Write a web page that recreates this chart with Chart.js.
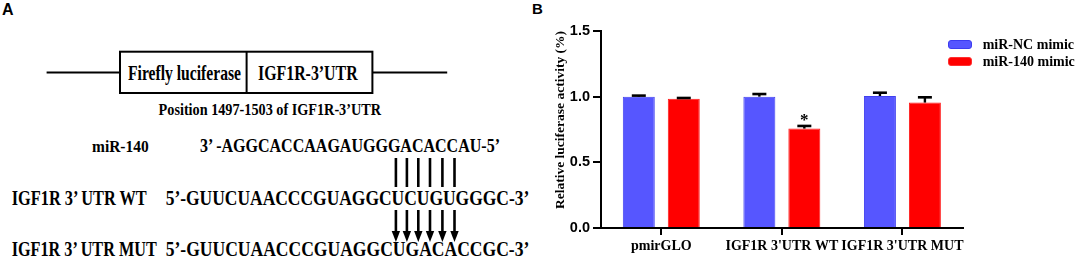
<!DOCTYPE html>
<html><head><meta charset="utf-8">
<script src="https://cdn.jsdelivr.net/npm/chart.js@4/dist/chart.umd.min.js"></script>
<style>
html,body{margin:0;padding:0;background:#fff;width:1084px;height:259px;overflow:hidden;}
#wrap{position:relative;width:1084px;height:259px;}
#diagram{position:absolute;left:0;top:0;}
#cv{position:absolute;left:540px;top:0;}
.leg{position:absolute;font:bold 14px 'Liberation Serif';color:#000;white-space:nowrap;line-height:16px;}
.sw{position:absolute;width:22px;height:7px;border-radius:3px;}
.panel{position:absolute;font:bold 15px 'Liberation Sans';color:#000;}
</style></head>
<body><div id="wrap">
<svg id="diagram" width="540" height="259" xmlns="http://www.w3.org/2000/svg" style="font-family:'Liberation Serif';font-weight:bold;">
  <text x="2" y="15" style="font-family:'Liberation Sans';font-size:16px;">A</text>
  <g stroke="#000" stroke-width="2" fill="none">
    <line x1="46.6" y1="72.4" x2="120" y2="72.4"/>
    <rect x="120" y="51.7" width="252.4" height="41.3"/>
    <line x1="246.6" y1="51.7" x2="246.6" y2="93"/>
    <line x1="372.4" y1="72.4" x2="447.2" y2="72.4"/>
  </g>
  <text x="128" y="80" style="font-size:21px" textLength="113" lengthAdjust="spacingAndGlyphs">Firefly luciferase</text>
  <text x="258" y="80" style="font-size:21px" textLength="99.6" lengthAdjust="spacingAndGlyphs">IGF1R-3’UTR</text>
  <text x="158.6" y="115" style="font-size:17px" textLength="222.4" lengthAdjust="spacingAndGlyphs">Position 1497-1503 of IGF1R-3’UTR</text>

  <text x="92" y="152" style="font-size:17.5px" textLength="56.7" lengthAdjust="spacingAndGlyphs">miR-140</text>
  <text x="200" y="152" style="font-size:18px" textLength="300" lengthAdjust="spacingAndGlyphs">3’ -AGGCACCAAGAUGGGACACCAU-5’</text>

  <text x="11.7" y="205" style="font-size:20.5px" textLength="135" lengthAdjust="spacingAndGlyphs">IGF1R  3’ UTR WT</text>
  <text x="165.7" y="205" style="font-size:20.5px" textLength="363.6" lengthAdjust="spacingAndGlyphs">5’-GUUCUAACCCGUAGGCUCUGUGGGC-3’</text>

  <text x="11.7" y="256" style="font-size:20px" textLength="145" lengthAdjust="spacingAndGlyphs">IGF1R  3’ UTR MUT</text>
  <text x="165.7" y="256" style="font-size:20px" textLength="363.6" lengthAdjust="spacingAndGlyphs">5’-GUUCUAACCCGUAGGCUGACACCGC-3’</text>

  <g id="pairs" stroke="#000" stroke-width="2.6"></g>
  <g id="arrows"></g>
</svg>
<div class="panel" style="left:532px;top:0px;">B</div>
<canvas id="cv" width="544" height="259"></canvas>
</div>
<script>
// ---- data ----
const categories = ['pmirGLO', "IGF1R 3'UTR WT", "IGF1R 3'UTR MUT"];
const seriesNames = ['miR-NC mimic', 'miR-140 mimic'];
const ncValues = [1.0, 1.0, 1.005];
const ncErrors = [0.008, 0.02, 0.025];
const mirValues = [0.985, 0.757, 0.955];
const mirErrors = [0.005, 0.02, 0.04];
const mirMarks = ['', '*', ''];
const ncMarks = ['', '', ''];
const yTicks = [0, 0.5, 1.0, 1.5];
const yTitle = 'Relative luciferase activity (%)';

// ---- diagram pairing lines / arrows (panel A) ----
const pairX = [395.9, 406.9, 418.3, 430, 442.4, 454.5];
const NS = 'http://www.w3.org/2000/svg';
const pg = document.getElementById('pairs');
const ag = document.getElementById('arrows');
pairX.forEach(x => {
  const l = document.createElementNS(NS, 'line');
  l.setAttribute('x1', x); l.setAttribute('x2', x);
  l.setAttribute('y1', 158); l.setAttribute('y2', 187);
  pg.appendChild(l);
  const s = document.createElementNS(NS, 'line');
  s.setAttribute('x1', x); s.setAttribute('x2', x);
  s.setAttribute('y1', 210); s.setAttribute('y2', 233);
  s.setAttribute('stroke', '#000'); s.setAttribute('stroke-width', '2.6');
  ag.appendChild(s);
  const p = document.createElementNS(NS, 'polygon');
  p.setAttribute('points', `${x-4.2},231 ${x+4.2},231 ${x},242`);
  p.setAttribute('fill', '#000');
  ag.appendChild(p);
});

// ---- legend (panel B) ----
const legendColors = ['#5656ff', '#ff0000'];
const legendBorders = ['#3c3cf0', '#ff3030'];
const wrap = document.getElementById('wrap');
seriesNames.forEach((name, i) => {
  const top = 40 + i * 17.3;
  const sw = document.createElement('div');
  sw.className = 'sw';
  sw.style.left = '948px'; sw.style.top = top + 'px';
  sw.style.background = legendColors[i];
  sw.style.border = '1px solid ' + legendBorders[i];
  wrap.appendChild(sw);
  const t = document.createElement('div');
  t.className = 'leg';
  t.style.left = '982.7px'; t.style.top = (top - 3.5) + 'px';
  t.textContent = name;
  wrap.appendChild(t);
});

// ---- error bar plugin ----
const errorSets = [ncErrors, mirErrors];
const markSets = [ncMarks, mirMarks];
const errPlugin = {
  id: 'errbars',
  afterDatasetsDraw(chart) {
    const ctx = chart.ctx, y = chart.scales.y;
    ctx.save();
    chart.data.datasets.forEach((ds, di) => {
      const meta = chart.getDatasetMeta(di);
      meta.data.forEach((bar, i) => {
        const v = ds.data[i], e = errorSets[di][i];
        const yTop = y.getPixelForValue(v + e);
        ctx.strokeStyle = '#000';
        ctx.lineWidth = 2.4;
        ctx.beginPath();
        ctx.moveTo(bar.x, bar.y);
        ctx.lineTo(bar.x, yTop);
        ctx.stroke();
        ctx.lineWidth = 2.6;
        ctx.beginPath();
        ctx.moveTo(bar.x - 7, yTop);
        ctx.lineTo(bar.x + 7, yTop);
        ctx.stroke();
        const m = markSets[di][i];
        if (m) {
          ctx.fillStyle = '#000';
          ctx.font = 'bold 17px "Liberation Serif"';
          ctx.textAlign = 'center';
          ctx.textBaseline = 'alphabetic';
          ctx.fillText(m, bar.x, yTop - 0.5);
        }
      });
    });
    ctx.restore();
  }
};

new Chart(document.getElementById('cv'), {
  type: 'bar',
  data: {
    labels: categories,
    datasets: [
      { label: seriesNames[0], data: ncValues, backgroundColor: '#5656ff', borderColor: '#4040ee', borderWidth: 1,
        categoryPercentage: 0.746, barPercentage: 0.711 },
      { label: seriesNames[1], data: mirValues, backgroundColor: '#ff0000', borderColor: '#ff1a1a', borderWidth: 1,
        categoryPercentage: 0.746, barPercentage: 0.711 }
    ]
  },
  options: {
    responsive: false,
    animation: false,
    devicePixelRatio: 1,
    layout: { padding: { top: 31, right: 121.3, bottom: 0, left: 0 } },
    plugins: { legend: { display: false }, tooltip: { enabled: false } },
    scales: {
      x: {
        grid: { display: true, drawOnChartArea: false, drawTicks: true, tickLength: 7, offset: false, color: '#000', lineWidth: 2 },
        border: { display: true, color: '#000', width: 2 },
        ticks: { color: '#000', font: { family: 'Liberation Serif', weight: 'bold', size: 14 }, padding: 3, autoSkip: false, maxRotation: 0 },
        afterFit(scale) { scale.height = 31; }
      },
      y: {
        min: 0, max: 1.5,
        afterBuildTicks(scale) { scale.ticks = yTicks.map(v => ({ value: v })); },
        grid: { display: true, drawOnChartArea: false, drawTicks: true, tickLength: 8, color: '#000', lineWidth: 2 },
        border: { display: true, color: '#000', width: 2 },
        ticks: { color: '#000', font: { family: 'Liberation Sans', weight: 'bold', size: 14.5 }, padding: 3,
                 callback: v => Number(v).toFixed(1) },
        title: { display: true, text: yTitle, align: 'end', color: '#000',
                 font: { family: 'Liberation Serif', weight: 'bold', size: 13.5 }, padding: { top: 12.4, bottom: 0 } },
        afterFit(scale) { scale.width = 61; }
      }
    }
  },
  plugins: [errPlugin]
});
</script>
</body></html>
